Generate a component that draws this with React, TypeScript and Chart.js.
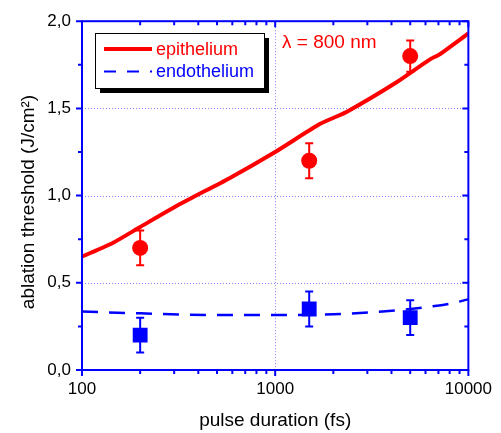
import React, { useEffect, useRef } from "react";
import { Chart, registerables } from "chart.js";
Chart.register(...registerables);

const FONT = "'Liberation Sans', Arial, Helvetica, sans-serif";
const BLUE = "#0000ff";
const RED = "#ff0000";

// Fitted curves
const epiCurveX = [100, 145, 200, 320, 580, 1000, 1700, 2340, 4250, 6300, 7100, 10000];
const epiCurveY = [0.65, 0.73, 0.82, 0.95, 1.1, 1.25, 1.41, 1.48, 1.65, 1.78, 1.81, 1.93];
const endoCurveX = [100, 200, 500, 1000, 2000, 3600, 6000, 8000, 10000];
const endoCurveY = [0.335, 0.325, 0.315, 0.315, 0.32, 0.335, 0.36, 0.38, 0.405];

// Measured points
const pointX = [200, 1500, 5000];
const epiY = [0.7, 1.2, 1.8];
const epiErr = [0.1, 0.1, 0.09];
const endoY = [0.2, 0.35, 0.3];
const endoErr = [0.1, 0.1, 0.1];

const xTicks = [100, 1000, 10000];
const yTicks = [0, 0.5, 1.0, 1.5, 2.0];
const yMinorTicks = [0.25, 0.75, 1.25, 1.75];

const legendLabels = ["epithelium", "endothelium"];
const annotationText = "λ = 800 nm";
const xTitle = "pulse duration (fs)";
const yTitle = "ablation threshold (J/cm²)";

function xMinor(): number[] {
  const out: number[] = [];
  for (const d of [100, 1000]) for (let k = 2; k <= 9; k++) out.push(d * k);
  return out;
}

const decorPlugin = {
  id: "decor",
  beforeDatasetsDraw(chart: any) {
    const { ctx, chartArea: a, scales } = chart;
    const xs = scales.x, ys = scales.y;
    ctx.save();
    ctx.strokeStyle = "#8080ff";
    ctx.lineWidth = 1;
    ctx.setLineDash([1, 2]);
    for (const v of [0.5, 1.0, 1.5]) {
      const y = Math.round(ys.getPixelForValue(v)) + 0.5;
      ctx.beginPath(); ctx.moveTo(a.left, y); ctx.lineTo(a.right, y); ctx.stroke();
    }
    const gx = Math.round(xs.getPixelForValue(1000)) + 0.5;
    ctx.beginPath(); ctx.moveTo(gx, a.top); ctx.lineTo(gx, a.bottom); ctx.stroke();
    ctx.setLineDash([]);
    // error bars
    const drawErr = (ys2: number[], errs: number[], color: string) => {
      ctx.strokeStyle = color;
      ctx.lineWidth = 2;
      for (let i = 0; i < pointX.length; i++) {
        const px = xs.getPixelForValue(pointX[i]);
        const top = ys.getPixelForValue(ys2[i] + errs[i]);
        const bot = ys.getPixelForValue(ys2[i] - errs[i]);
        ctx.beginPath();
        ctx.moveTo(px, top); ctx.lineTo(px, bot);
        ctx.moveTo(px - 4, top); ctx.lineTo(px + 4, top);
        ctx.moveTo(px - 4, bot); ctx.lineTo(px + 4, bot);
        ctx.stroke();
      }
    };
    drawErr(epiY, epiErr, RED);
    drawErr(endoY, endoErr, BLUE);
    ctx.restore();
  },
  afterDraw(chart: any) {
    const { ctx, chartArea: a, scales } = chart;
    const xs = scales.x, ys = scales.y;
    ctx.save();
    // frame
    ctx.strokeStyle = BLUE;
    ctx.lineWidth = 2;
    ctx.strokeRect(a.left, a.top, a.right - a.left, a.bottom - a.top);
    // ticks
    ctx.beginPath();
    for (const v of xTicks) {
      const x = xs.getPixelForValue(v);
      ctx.moveTo(x, a.bottom); ctx.lineTo(x, a.bottom + 6);
      ctx.moveTo(x, a.top); ctx.lineTo(x, a.top + 6);
    }
    for (const v of xMinor()) {
      const x = xs.getPixelForValue(v);
      ctx.moveTo(x, a.bottom); ctx.lineTo(x, a.bottom + 4);
      ctx.moveTo(x, a.top); ctx.lineTo(x, a.top + 4);
    }
    for (const v of yTicks) {
      const y = ys.getPixelForValue(v);
      ctx.moveTo(a.left, y); ctx.lineTo(a.left - 6, y);
      ctx.moveTo(a.right, y); ctx.lineTo(a.right - 6, y);
    }
    for (const v of yMinorTicks) {
      const y = ys.getPixelForValue(v);
      ctx.moveTo(a.left, y); ctx.lineTo(a.left - 4, y);
      ctx.moveTo(a.right, y); ctx.lineTo(a.right - 4, y);
    }
    ctx.stroke();

    // titles
    ctx.fillStyle = "#000";
    ctx.font = `19px ${FONT}`;
    ctx.textAlign = "center";
    ctx.textBaseline = "middle";
    ctx.fillText(xTitle, (a.left + a.right) / 2, 421);
    ctx.save();
    ctx.translate(29, 202);
    ctx.rotate(-Math.PI / 2);
    ctx.fillText(yTitle, 0, 0);
    ctx.restore();

    // annotation
    ctx.fillStyle = RED;
    ctx.textAlign = "left";
    ctx.fillText(annotationText, 282, 43);

    // legend
    ctx.fillStyle = "#000";
    ctx.fillRect(100, 38, 169, 55);
    ctx.fillStyle = "#fff";
    ctx.fillRect(95, 33, 169, 55);
    ctx.strokeStyle = "#000";
    ctx.lineWidth = 1;
    ctx.strokeRect(95.5, 33.5, 169, 55);
    ctx.strokeStyle = RED;
    ctx.lineWidth = 4;
    ctx.beginPath(); ctx.moveTo(104, 49); ctx.lineTo(152, 49); ctx.stroke();
    ctx.strokeStyle = BLUE;
    ctx.lineWidth = 2;
    ctx.setLineDash([12, 11]);
    ctx.beginPath(); ctx.moveTo(104, 71.5); ctx.lineTo(152, 71.5); ctx.stroke();
    ctx.setLineDash([]);
    ctx.font = `18px ${FONT}`;
    ctx.fillStyle = RED;
    ctx.fillText(legendLabels[0], 156, 50);
    ctx.fillStyle = BLUE;
    ctx.fillText(legendLabels[1], 156, 72);
    ctx.restore();
  },
};

export default function App() {
  const ref = useRef<HTMLCanvasElement | null>(null);
  useEffect(() => {
    document.body.style.margin = "0";
    const canvas = ref.current!;
    Chart.defaults.font.family = FONT;
    const chart = new Chart(canvas, {
      type: "scatter",
      data: {
        datasets: [
          {
            data: epiCurveX.map((x, i) => ({ x, y: epiCurveY[i] })),
            showLine: true,
            borderColor: RED,
            borderWidth: 4,
            pointRadius: 0,
            tension: 0.2,
          },
          {
            data: endoCurveX.map((x, i) => ({ x, y: endoCurveY[i] })),
            showLine: true,
            borderColor: BLUE,
            borderWidth: 2.5,
            borderDash: [16, 11],
            pointRadius: 0,
            cubicInterpolationMode: "monotone",
          },
          {
            data: pointX.map((x, i) => ({ x, y: epiY[i] })),
            pointStyle: "circle",
            pointRadius: 8,
            pointBorderWidth: 0,
            backgroundColor: RED,
            borderColor: RED,
          },
          {
            data: pointX.map((x, i) => ({ x, y: endoY[i] })),
            pointStyle: "rect",
            pointRadius: 10.5,
            pointBorderWidth: 0,
            backgroundColor: BLUE,
            borderColor: BLUE,
          },
        ] as any,
      },
      options: {
        animation: false,
        responsive: false,
        layout: { padding: { left: 0, top: 15, right: 32, bottom: 0 } },
        plugins: { legend: { display: false }, tooltip: { enabled: false } },
        scales: {
          x: {
            type: "logarithmic",
            min: 100,
            max: 10000,
            grid: { display: false, drawTicks: false },
            border: { display: false },
            afterBuildTicks: (s: any) => {
              s.ticks = xTicks.map((v) => ({ value: v }));
            },
            afterFit: (s: any) => {
              s.height = 63;
            },
            ticks: {
              color: "#000",
              font: { size: 17, family: FONT },
              padding: 9,
              maxRotation: 0,
              autoSkip: false,
              callback: (v: any) => String(v),
            },
          },
          y: {
            type: "linear",
            min: 0,
            max: 2,
            grid: { display: false, drawTicks: false },
            border: { display: false },
            afterBuildTicks: (s: any) => {
              s.ticks = yTicks.map((v) => ({ value: v }));
            },
            afterFit: (s: any) => {
              s.width = 82;
            },
            ticks: {
              color: "#000",
              font: { size: 17, family: FONT },
              padding: 11,
              callback: (v: any) => Number(v).toFixed(1).replace(".", ","),
            },
          },
        },
      } as any,
      plugins: [decorPlugin],
    });
    return () => chart.destroy();
  }, []);
  return (
    <div style={{ position: "absolute", left: 0, top: 0, width: 501, height: 433, background: "#fff" }}>
      <canvas ref={ref} width={501} height={433} />
    </div>
  );
}
